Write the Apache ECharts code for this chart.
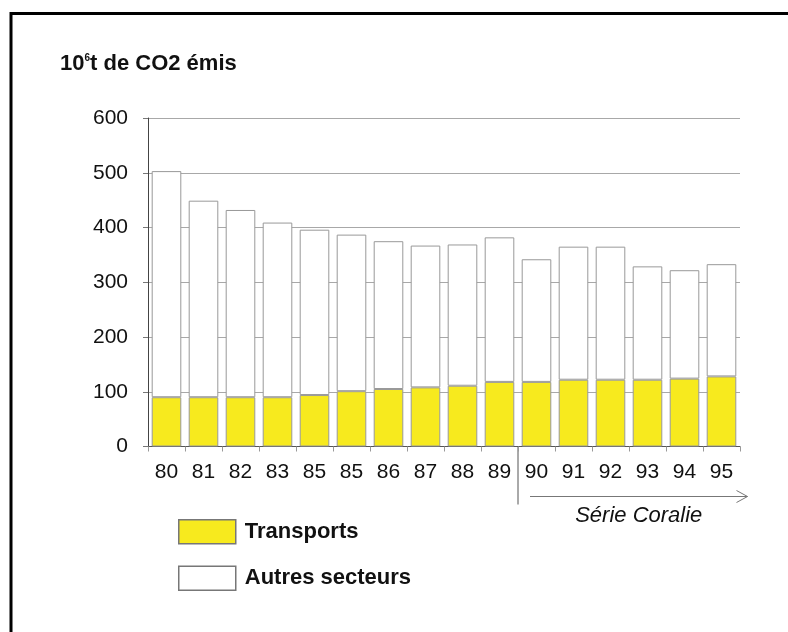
<!DOCTYPE html>
<html>
<head>
<meta charset="utf-8">
<script src="https://cdn.jsdelivr.net/npm/echarts@6/dist/echarts.min.js"></script>
<style>
html,body{margin:0;padding:0;background:#fff;}
#c{width:788px;height:632px;}
</style>
</head>
<body>
<div id="c"></div>
<script>
const categories = ['80','81','82','83','85','85','86','87','88','89','90','91','92','93','94','95'];
const transports = [90,90,90,90,94,101,105,108,111,118,118,122,122,122,124,128];
const autresSecteurs = [413,359,342,319,302,286,270,259,258,264,224,243,243,207,198,205];
const yTicks = [0,100,200,300,400,500,600];

const FONT = "'Liberation Sans', Arial, sans-serif";
const chart = echarts.init(document.getElementById('c'), null, {renderer: 'canvas'});

const option = {
  backgroundColor: '#ffffff',
  animation: false,
  textStyle: {fontFamily: FONT},
  title: {
    left: 60, top: 53, padding: 0,
    text: '{a|10}{s|6}{a|t de CO2 émis}',
    textStyle: {
      rich: {
        a: {fontFamily: FONT, fontSize: 22, fontWeight: 'bold', color: '#111'},
        s: {fontFamily: FONT, fontSize: 10, fontWeight: 'bold', color: '#111', verticalAlign: 'top'}
      }
    }
  },
  legend: {
    orient: 'vertical', left: 178, top: 519, itemGap: 21, padding: 0,
    itemWidth: 57, itemHeight: 24, icon: 'rect',
    textStyle: {fontFamily: FONT, fontSize: 22, fontWeight: 'bold', color: '#111', padding: [0,0,0,4]},
    data: [
      {name: 'Transports', itemStyle: {color: '#f7ea1e', borderColor: '#777', borderWidth: 1.5}},
      {name: 'Autres secteurs', itemStyle: {color: '#ffffff', borderColor: '#777', borderWidth: 1.5}}
    ]
  },
  grid: {left: 148, right: 48, top: 118, bottom: 185.5, containLabel: false},
  xAxis: {
    type: 'category', data: categories,
    axisLine: {show: true, lineStyle: {color: '#555', width: 1}},
    axisTick: {show: true, length: 5, lineStyle: {color: '#999'}},
    axisLabel: {fontFamily: FONT, fontSize: 21, color: '#111', margin: 15}
  },
  yAxis: {
    type: 'value', min: yTicks[0], max: yTicks[yTicks.length-1], interval: 100,
    axisLine: {show: true, lineStyle: {color: '#444', width: 1}},
    axisTick: {show: true, length: 5, lineStyle: {color: '#777'}},
    axisLabel: {fontFamily: FONT, fontSize: 21, color: '#111', margin: 20},
    splitLine: {show: true, lineStyle: {color: '#a8a8a8', width: 1.2}}
  },
  series: [
    {name: 'Transports', type: 'bar', stack: 'tot', data: transports, barWidth: '80%',
     itemStyle: {color: '#f7ea1e', borderColor: '#999', borderWidth: 1}},
    {name: 'Autres secteurs', type: 'bar', stack: 'tot', data: autresSecteurs, barWidth: '80%',
     itemStyle: {color: '#ffffff', borderColor: '#999', borderWidth: 1}}
  ]
};
chart.setOption(option);

// annotations positioned from the axis scale
const x9 = chart.convertToPixel({xAxisIndex: 0}, 9);
const x10 = chart.convertToPixel({xAxisIndex: 0}, 10);
const xLast = chart.convertToPixel({xAxisIndex: 0}, categories.length - 1);
const y0 = chart.convertToPixel({yAxisIndex: 0}, 0);
const sepX = (x9 + x10) / 2;
const arrowY = y0 + 50;
const arrowX1 = sepX + 12;
const arrowX2 = xLast + 26;

chart.setOption({
  graphic: [
    {type: 'rect', silent: true, z: 100,
     shape: {x: 11, y: 13.5, width: 900, height: 800},
     style: {fill: null, stroke: '#000', lineWidth: 3}},
    {type: 'line', silent: true,
     shape: {x1: sepX, y1: y0, x2: sepX, y2: y0 + 58},
     style: {stroke: '#555', lineWidth: 1}},
    {type: 'line', silent: true,
     shape: {x1: arrowX1, y1: arrowY, x2: arrowX2, y2: arrowY},
     style: {stroke: '#777', lineWidth: 1}},
    {type: 'polyline', silent: true,
     shape: {points: [[arrowX2 - 11, arrowY - 6], [arrowX2, arrowY], [arrowX2 - 11, arrowY + 6]]},
     style: {stroke: '#777', lineWidth: 1, fill: null}},
    {type: 'text', silent: true,
     style: {text: 'Série Coralie', x: (arrowX1 + arrowX2) / 2, y: arrowY + 19,
             align: 'center', verticalAlign: 'middle',
             font: "italic 22px 'Liberation Sans', Arial, sans-serif", fill: '#111'}}
  ]
});
</script>
</body>
</html>
